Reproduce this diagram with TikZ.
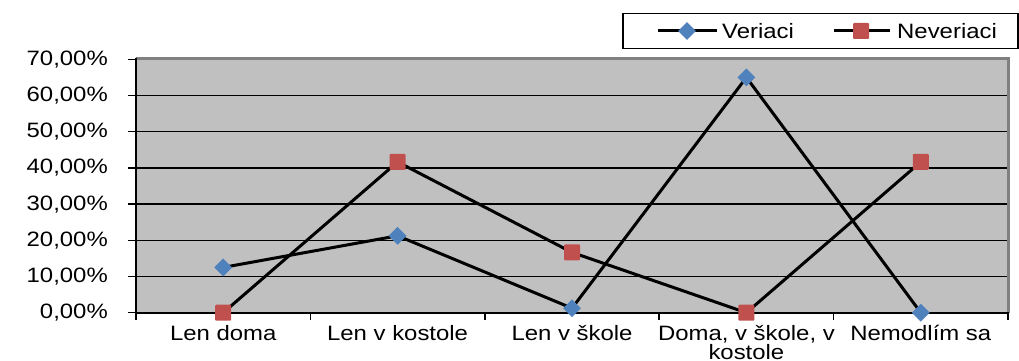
\documentclass[tikz,border=0pt]{standalone}
\usepackage{fontspec}
\setmainfont{Liberation Sans}[FakeStretch=1.15]
\usetikzlibrary{shapes.geometric}
\definecolor{plotgray}{HTML}{C0C0C0}
\definecolor{bordergray}{HTML}{808080}
\definecolor{vblue}{HTML}{4F81BD}
\definecolor{nred}{HTML}{C0504D}
\begin{document}
\begin{tikzpicture}[x=1pt,y=-1pt,
  lbl/.style={font=\fontsize{20.8}{19}\selectfont, inner sep=0pt},
  ylbl/.style={lbl, anchor=east},
  xlbl/.style={lbl, anchor=base, align=center},
  vmark/.style={diamond, fill=vblue, minimum size=18pt, inner sep=0pt},
  nmark/.style={rectangle, fill=nred, minimum size=16pt, inner sep=0pt, rounded corners=1pt},
  series/.style={line width=3pt, black},
  gridline/.style={line width=1.5pt, black},
  tickline/.style={line width=1.5pt, black},
]
\useasboundingbox (0,0) rectangle (1019,361);
% plot area
\fill[plotgray] (136,59) rectangle (1008,313);
\foreach \i [evaluate=\i as \yy using 312.7-36.2*\i] in {1,...,6}
  \draw[gridline] (136,\yy) -- (1008,\yy);
\draw[bordergray, line width=3pt] (136,59) -- (1008,59) -- (1008,313);
\draw[line width=2pt] (136,58) -- (136,313) -- (1009,313);
% y ticks and labels
\foreach \i/\t in {0/{0,00\%},1/{10,00\%},2/{20,00\%},3/{30,00\%},4/{40,00\%},5/{50,00\%},6/{60,00\%},7/{70,00\%}}{
  \pgfmathsetmacro{\yy}{312.7-36.2*\i}
  \draw[tickline] (128,\yy) -- (136,\yy);
  \node[ylbl] (ylab\i) at (108,\yy) {\t};
}
% x ticks
\foreach \xx in {136,310.4,484.8,659.2,833.6,1008}
  \draw[tickline] (\xx,313) -- (\xx,320);
% x labels
\node[xlbl] (c1) at (223.2,340) {Len doma};
\node[xlbl] (c2) at (397.6,340) {Len v kostole};
\node[xlbl] (c3) at (572.0,340) {Len v škole};
\node[xlbl] (c4) at (746.4,359) {Doma, v škole, v\\kostole};
\node[xlbl] (c5) at (920.8,340) {Nemodlím sa};
% data points
\coordinate (v1) at (223.2,267.4);
\coordinate (v2) at (397.6,235.8);
\coordinate (v3) at (572.0,308.2);
\coordinate (v4) at (746.4,77.4);
\coordinate (v5) at (920.8,312.7);
\coordinate (n1) at (223.2,312.7);
\coordinate (n2) at (397.6,161.9);
\coordinate (n3) at (572.0,252.4);
\coordinate (n4) at (746.4,312.7);
\coordinate (n5) at (920.8,161.9);
% Veriaci series
\draw[series] (v1) -- (v2) -- (v3) -- (v4) -- (v5);
\foreach \p in {v1,v2,v3,v4,v5} \node[vmark] (m\p) at (\p) {};
% Neveriaci series
\draw[series] (n1) -- (n2) -- (n3) -- (n4) -- (n5);
\foreach \p in {n1,n2,n3,n4,n5} \node[nmark] (m\p) at (\p) {};
% legend
\node[draw=black, line width=1.5pt, fill=white, minimum width=395pt, minimum height=35pt, anchor=north west, inner sep=0pt] (legend) at (622,13) {};
\coordinate (lva) at (658,31);
\coordinate (lvb) at (717,31);
\draw[series] (lva) -- (lvb);
\node[vmark] (lvm) at (687,31) {};
\node[lbl, anchor=west] (lvt) at (722,31) {Veriaci};
\coordinate (lna) at (834,31);
\coordinate (lnb) at (890,31);
\draw[series] (lna) -- (lnb);
\node[nmark] (lnm) at (861,31) {};
\node[lbl, anchor=west] (lnt) at (897,31) {Neveriaci};
\end{tikzpicture}
\end{document}
